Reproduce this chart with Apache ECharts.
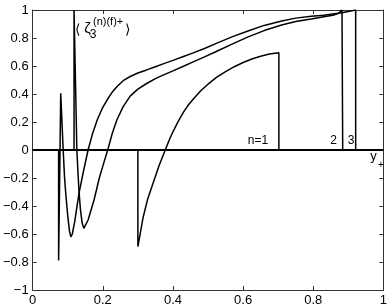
<!DOCTYPE html>
<html>
<head>
<meta charset="utf-8">
<script src="https://cdn.jsdelivr.net/npm/echarts@6/dist/echarts.min.js"></script>
<style>
html,body{margin:0;padding:0;background:#fff;}
#c{width:390px;height:308px;}
</style>
</head>
<body>
<div id="c"></div>
<script>
// axis ranges and ticks
var xTicks = [0, 0.2, 0.4, 0.6, 0.8, 1];
var yTicks = [-1, -0.8, -0.6, -0.4, -0.2, 0, 0.2, 0.4, 0.6, 0.8, 1];

// series n=1
var curveN1 = [
  [0.300, 0], [0.300, -0.69], [0.308, -0.58], [0.315, -0.48], [0.328, -0.35], [0.343, -0.24],
  [0.360, -0.115], [0.378, 0], [0.390, 0.075], [0.400, 0.13], [0.415, 0.205], [0.430, 0.27],
  [0.445, 0.325], [0.460, 0.37], [0.480, 0.425], [0.500, 0.47], [0.525, 0.52], [0.550, 0.56],
  [0.575, 0.595], [0.600, 0.625], [0.625, 0.65], [0.650, 0.67], [0.675, 0.685], [0.702, 0.695],
  [0.702, 0]
];
// series n=2
var curveN2 = [
  [0.118, 0], [0.118, 1.0], [0.122, 0.5], [0.126, 0], [0.129, -0.15], [0.132, -0.29], [0.136, -0.42],
  [0.141, -0.52], [0.146, -0.56], [0.151, -0.55], [0.158, -0.50], [0.175, -0.357], [0.190, -0.20],
  [0.203, -0.09], [0.214, 0], [0.226, 0.11], [0.240, 0.214], [0.258, 0.31], [0.278, 0.385],
  [0.300, 0.435], [0.325, 0.475], [0.350, 0.51], [0.372, 0.535], [0.400, 0.565], [0.430, 0.598],
  [0.456, 0.628], [0.490, 0.665], [0.522, 0.702], [0.570, 0.758], [0.616, 0.81], [0.660, 0.853],
  [0.710, 0.893], [0.750, 0.918], [0.794, 0.936], [0.830, 0.952], [0.860, 0.965], [0.872, 0.976],
  [0.882, 1.0], [0.884, 0]
];
// series n=3
var curveN3 = [
  [0.074, 0], [0.074, -0.79], [0.080, 0.405], [0.087, 0], [0.091, -0.20], [0.095, -0.33], [0.100, -0.47],
  [0.105, -0.58], [0.109, -0.62], [0.113, -0.60], [0.120, -0.51], [0.132, -0.31], [0.145, -0.15],
  [0.158, 0], [0.170, 0.11], [0.184, 0.214], [0.198, 0.295], [0.212, 0.357], [0.226, 0.41],
  [0.240, 0.452], [0.258, 0.495], [0.278, 0.525], [0.300, 0.55], [0.325, 0.572], [0.350, 0.595],
  [0.372, 0.615], [0.400, 0.64], [0.430, 0.668], [0.456, 0.692], [0.490, 0.725], [0.522, 0.76],
  [0.570, 0.81], [0.616, 0.852], [0.660, 0.89], [0.710, 0.922], [0.750, 0.942], [0.794, 0.955],
  [0.830, 0.963], [0.870, 0.976], [0.885, 0.982], [0.900, 0.99], [0.921, 1.0], [0.921, 0]
];
var seriesNames = ['n=1', '2', '3'];

var FONT = '"Liberation Sans", Arial, Helvetica, sans-serif';
var frameColor = '#333';

function fmt(v) {
  var s = String(Math.round(v * 10) / 10);
  return s.replace('-', '\u2212');
}

var chart = echarts.init(document.getElementById('c'), null, {renderer: 'canvas'});

function baseAxis(extra) {
  var a = {
    type: 'value',
    axisLine: {show: true, onZero: false, lineStyle: {color: frameColor, width: 1}},
    axisTick: {show: true, inside: true, length: 4, lineStyle: {color: frameColor, width: 1}},
    splitLine: {show: false}
  };
  for (var k in extra) a[k] = extra[k];
  return a;
}

var xMin = xTicks[0], xMax = xTicks[xTicks.length - 1];
var yMin = yTicks[0], yMax = yTicks[yTicks.length - 1];
var xInt = xTicks[1] - xTicks[0], yInt = +(yTicks[1] - yTicks[0]).toFixed(2);

var lineStyle = {color: '#000', width: 1.5};

var option = {
  animation: false,
  backgroundColor: '#fff',
  grid: {left: 29, right: 6, top: 10, bottom: 18, containLabel: false},
  xAxis: [
    baseAxis({min: xMin, max: xMax, interval: xInt, position: 'bottom',
      axisLabel: {formatter: fmt, color: '#000', fontSize: 13, fontFamily: FONT, margin: 4}}),
    baseAxis({min: xMin, max: xMax, interval: xInt, position: 'top', axisLabel: {show: false}})
  ],
  yAxis: [
    baseAxis({min: yMin, max: yMax, interval: yInt, position: 'left',
      axisLabel: {formatter: fmt, color: '#000', fontSize: 13, fontFamily: FONT, margin: 4}}),
    baseAxis({min: yMin, max: yMax, interval: yInt, position: 'right', axisLabel: {show: false}})
  ],
  series: [
    {name: seriesNames[0], type: 'line', data: curveN1, symbol: 'none', lineStyle: lineStyle, clip: true,
      xAxisIndex: 0, yAxisIndex: 0,
      markLine: {silent: true, symbol: 'none', label: {show: false},
        lineStyle: {color: '#000', width: 2, type: 'solid'}, data: [{yAxis: 0}]}},
    {name: seriesNames[1], type: 'line', data: curveN2, symbol: 'none', lineStyle: lineStyle, clip: true,
      xAxisIndex: 0, yAxisIndex: 0},
    {name: seriesNames[2], type: 'line', data: curveN3, symbol: 'none', lineStyle: lineStyle, clip: true,
      xAxisIndex: 0, yAxisIndex: 0}
  ]
};
chart.setOption(option);

function txt(s, x, y, size, align) {
  return {type: 'text', silent: true, style: {text: s, x: x, y: y, fill: '#000',
    font: size + 'px ' + FONT, textAlign: align || 'center', textVerticalAlign: 'middle'}};
}

chart.setOption({
  graphic: [
    txt('\u27E8', 77.5, 30.5, 14),
    txt('\u03B6', 87.5, 28.5, 15),
    txt('(n)(f)+', 93, 22, 11, 'left'),
    txt('3', 93, 35, 12),
    txt('\u27E9', 127.5, 30.5, 14),
    txt(seriesNames[0], 258, 141, 12),
    txt(seriesNames[1], 333.5, 141, 12),
    txt(seriesNames[2], 351, 141, 12),
    txt('y', 373.5, 156.5, 13),
    txt('+', 381, 165, 10)
  ]
});
</script>
</body>
</html>
